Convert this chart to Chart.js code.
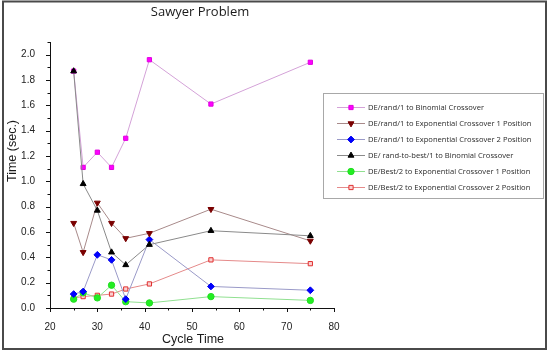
<!DOCTYPE html>
<html>
<head>
<meta charset="utf-8">
<script src="https://cdn.jsdelivr.net/npm/chart.js@4"></script>
<style>
  html, body { margin: 0; padding: 0; background: #fff; }
  #wrap { width: 550px; height: 352px; position: relative; }
</style>
</head>
<body>
<div id="wrap"><canvas id="chart" width="550" height="352"></canvas></div>
<script>
// x values (cycle time)
const cycleTimes = [25, 27, 30, 33, 36, 41, 54, 75];

// series (time in sec.)
const randBinomial = [1.87, 1.11, 1.23, 1.11, 1.34, 1.96, 1.61, 1.94];
const randExp1 = [0.67, 0.44, 0.83, 0.67, 0.55, 0.59, 0.78, 0.53];
const randExp2 = [0.11, 0.13, 0.42, 0.38, 0.07, 0.54, 0.17, 0.14];
const randToBestBinomial = [1.87, 0.98, 0.77, 0.44, 0.34, 0.50, 0.61, 0.57];
const best2Exp1 = [0.07, 0.12, 0.08, 0.18, 0.05, 0.04, 0.09, 0.06];
const best2Exp2 = [0.08, 0.09, 0.10, 0.11, 0.15, 0.19, 0.38, 0.35];

const seriesNames = [
  "DE/rand/1 to Binomial Crossover",
  "DE/rand/1 to Exponential Crossover 1 Position",
  "DE/rand/1 to Exponential Crossover 2 Position",
  "DE/ rand-to-best/1 to Binomial Crossover",
  "DE/Best/2 to Exponential Crossover 1 Position",
  "DE/Best/2 to Exponential Crossover 2 Position"
];

const yTickLabels = ["0.0", "0.2", "0.4", "0.6", "0.8", "1.0", "1.2", "1.4", "1.6", "1.8", "2.0"];

function toPoints(values) {
  return values.map((v, i) => ({ x: cycleTimes[i], y: v }));
}

function makeSet(label, values, lineColor, fill, stroke, style, radius, rotation) {
  return {
    label: label,
    data: toPoints(values),
    borderColor: lineColor,
    borderWidth: 1,
    pointStyle: style,
    pointRadius: radius,
    pointRotation: rotation || 0,
    pointBackgroundColor: fill,
    pointBorderColor: stroke,
    pointBorderWidth: 1,
    tension: 0
  };
}

const datasets = [
  makeSet(seriesNames[3], randToBestBinomial, "#8a8a8a", "#000000", "#000000", "triangle", 3.4),
  makeSet(seriesNames[0], randBinomial, "#d4a2d8", "#ff00ff", "#e000e0", "rect", 3),
  makeSet(seriesNames[1], randExp1, "#a88a8a", "#7a0000", "#7a0000", "triangle", 3.4, 180),
  makeSet(seriesNames[2], randExp2, "#9a9ac8", "#0000ff", "#0000ee", "rectRot", 3.4),
  makeSet(seriesNames[4], best2Exp1, "#90e090", "#22ee22", "#22dd22", "circle", 3.2),
  makeSet(seriesNames[5], best2Exp2, "#e58a8a", "#fbd0d0", "#e03030", "rect", 3)
];

// legend order as in the picture
const legendOrder = [1, 2, 3, 0, 4, 5];

// ------------------------------
// EXTRA DRAWING
// ------------------------------

const decorPlugin = {
  id: "decor",
  afterDraw(chart) {
    const ctx = chart.ctx;
    const area = chart.chartArea;
    ctx.save();

    // tick marks, major and minor
    ctx.strokeStyle = "#111";
    ctx.lineWidth = 1;
    const xs = chart.scales.x;
    const ys = chart.scales.y;
    for (let v = 20; v <= 80; v += 5) {
      const px = Math.round(xs.getPixelForValue(v)) + 0.5;
      const len = v % 10 === 0 ? 4 : 2.5;
      ctx.beginPath();
      ctx.moveTo(px, area.bottom);
      ctx.lineTo(px, area.bottom + len);
      ctx.stroke();
    }
    for (let i = 0; i <= 21; i++) {
      const py = Math.round(ys.getPixelForValue(i / 10)) + 0.5;
      const len = i % 2 === 0 ? 4 : 2.5;
      ctx.beginPath();
      ctx.moveTo(area.left, py);
      ctx.lineTo(area.left - len, py);
      ctx.stroke();
    }

    // titles
    ctx.fillStyle = "#1a1a1a";
    ctx.textAlign = "center";
    ctx.textBaseline = "middle";
    ctx.font = "13px 'Open Sans', sans-serif";
    ctx.fillText("Sawyer Problem", 200, 12);
    ctx.font = "12.5px 'Liberation Sans', Arial, sans-serif";
    ctx.fillText("Cycle Time", 193, 340);
    ctx.save();
    ctx.translate(13, 151);
    ctx.rotate(-Math.PI / 2);
    ctx.fillText("Time (sec.)", 0, 0);
    ctx.restore();

    // legend box
    ctx.strokeStyle = "#a8a8a8";
    ctx.lineWidth = 1;
    ctx.strokeRect(323.5, 93.5, 220, 105);
    ctx.font = "7.6px 'Open Sans', sans-serif";
    ctx.textAlign = "left";
    legendOrder.forEach((di, row) => {
      const ds = chart.data.datasets[di];
      const y = 107.5 + row * 16;
      ctx.strokeStyle = ds.borderColor;
      ctx.beginPath();
      ctx.moveTo(337, y);
      ctx.lineTo(365, y);
      ctx.stroke();
      ctx.fillStyle = ds.pointBackgroundColor;
      ctx.strokeStyle = ds.pointBorderColor;
      Chart.helpers.drawPoint(ctx, {
        pointStyle: ds.pointStyle,
        radius: ds.pointRadius,
        rotation: ds.pointRotation,
        borderWidth: 1
      }, 351, y);
      ctx.fillStyle = "#2a2a2a";
      ctx.fillText(ds.label, 368, y);
    });

    // outer frame
    ctx.strokeStyle = "#4a4a4a";
    ctx.lineWidth = 2;
    ctx.strokeRect(3, 1.5, 543, 347.5);

    ctx.restore();
  }
};

// ------------------------------
// CHART
// ------------------------------

new Chart(document.getElementById("chart"), {
  type: "line",
  data: { datasets: datasets },
  plugins: [decorPlugin],
  options: {
    responsive: false,
    animation: false,
    layout: { padding: { left: 0, right: 216, top: 42, bottom: 0 } },
    plugins: {
      legend: { display: false },
      title: { display: false },
      tooltip: { enabled: false }
    },
    scales: {
      x: {
        type: "linear",
        min: 20,
        max: 80,
        afterFit(scale) { scale.height = 44; },
        grid: { display: false },
        border: { display: true, color: "#111", width: 1 },
        ticks: {
          stepSize: 10,
          padding: 5,
          color: "#222",
          font: { family: "'Liberation Sans', Arial, sans-serif", size: 10 }
        }
      },
      y: {
        min: 0,
        max: 2.1,
        afterFit(scale) { scale.width = 50; },
        afterBuildTicks(scale) {
          scale.ticks = yTickLabels.map(t => ({ value: parseFloat(t) }));
        },
        grid: { display: false },
        border: { display: true, color: "#111", width: 1 },
        ticks: {
          padding: 7,
          color: "#222",
          font: { family: "'Liberation Sans', Arial, sans-serif", size: 10 },
          callback: (v) => v.toFixed(1)
        }
      }
    }
  }
});
</script>
</body>
</html>
